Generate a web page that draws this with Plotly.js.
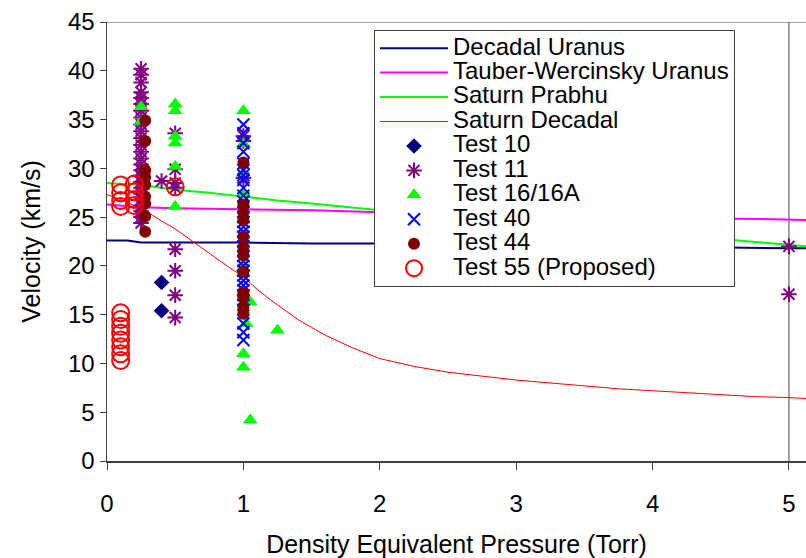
<!DOCTYPE html>
<html>
<head>
<meta charset="utf-8">
<script src="https://cdn.plot.ly/plotly-3.0.1.min.js"></script>
<style>html,body{margin:0;padding:0;background:#fff;}#chart{width:806px;height:558px;}</style>
</head>
<body>
<div id="chart"></div>
<script>
// ---- Model lines ----
const decadalUranusX = [0, 0.15, 0.25, 0.5, 1, 1.5, 2, 3, 4, 5, 5.13];
const decadalUranusY = [22.6, 22.6, 22.4, 22.4, 22.4, 22.3, 22.3, 22.1, 22.0, 21.8, 21.8];

const tauberX = [0, 0.25, 0.5, 1, 1.5, 2, 3, 4, 4.8, 5, 5.13];
const tauberY = [26.3, 26.0, 25.9, 25.8, 25.7, 25.5, 25.2, 24.9, 24.8, 24.7, 24.7];

const prabhuX = [0, 0.25, 0.5, 0.75, 1, 1.25, 1.5, 2, 3, 4, 4.8, 5, 5.13];
const prabhuY = [28.5, 28.3, 27.8, 27.5, 27.1, 26.7, 26.4, 25.7, 24.6, 23.4, 22.4, 22.2, 22.0];

const saturnDecadalX = [0, 0.1, 0.2, 0.3, 0.4, 0.5, 0.6, 0.7, 0.8, 0.9, 1.0, 1.1, 1.2, 1.3, 1.4, 1.5, 1.6, 1.8, 2.0, 2.25, 2.5, 2.75, 3.0, 3.25, 3.5, 3.75, 4.0, 4.25, 4.5, 4.75, 5.0, 5.13];
const saturnDecadalY = [27.3, 26.8, 26.2, 25.5, 24.6, 23.8, 22.8, 21.8, 20.8, 19.8, 18.9, 17.6, 16.5, 15.5, 14.5, 13.7, 12.9, 11.6, 10.5, 9.7, 9.1, 8.7, 8.3, 8.0, 7.7, 7.4, 7.2, 7.0, 6.8, 6.6, 6.5, 6.4];

// ---- Test data ----
const test10X = [0.4, 0.4];
const test10Y = [18.3, 15.4];

const test11X = [0.25,0.25,0.25,0.25,0.25,0.25,0.25,0.25,0.25,0.25,0.25,0.25,0.25,0.25,0.25,0.25,0.25,0.25,0.25,0.25,0.25,0.25,0.25,0.25,0.25,
                 0.4,
                 0.5,0.5,0.5,0.5,0.5,0.5,0.5,0.5,
                 1.0,1.0,1.0,
                 5,5];
const test11Y = [40.2,39.6,38.8,37.8,37.2,36.6,35.9,35.2,34.5,33.8,33.1,32.4,31.7,31.0,30.4,29.8,29.2,28.6,28.0,27.4,26.8,26.2,25.6,25.0,24.4,
                 28.7,
                 33.6,29.9,28.5,28.0,21.7,19.5,17.0,14.7,
                 33.3,32.8,29.0,
                 22.0,17.1];

const test16X = [0.25,0.25,
                 0.5,0.5,0.5,0.5,0.5,0.5,
                 1.0,1.0,1.0,1.0,1.0,1.02,1.0,1.0,
                 1.05,1.05,
                 1.25];
const test16Y = [36.3,34.8,
                 36.6,35.9,33.3,32.6,30.2,26.1,
                 35.9,32.5,29.5,27.5,19.8,14.1,11.0,9.6,
                 16.3,4.2,
                 13.4];

const test40X = [1,1,1,1,1,1,1,1,1,1,1,1,1,1,1,1,1,1,1,1,1,1,1,1,1,1,1,1,1,1,1,1,1,1,1,1];
const test40Y = [34.5,33.6,32.6,31.7,30.5,29.8,29.3,28.8,28.0,27.2,26.6,26.0,25.5,25.0,24.5,24.0,23.5,23.0,22.5,22.0,21.5,21.0,20.5,20.0,19.5,19.0,18.5,18.0,17.5,17.0,16.5,16.0,15.5,14.1,13.2,12.4];

const test44X = [0.28,0.28,0.28,0.28,0.28,0.28,0.28,0.28,0.28,
                 1,1,1,1,1,1,1,1,1,1,1,1];
const test44Y = [34.9,32.8,29.8,29.1,28.3,27.1,26.4,25.1,23.5,
                 30.6,26.3,25.5,24.7,23.0,21.9,21.1,19.4,17.3,16.8,15.7,15.1];

const test55X = [0.1,0.1,0.1,0.1, 0.2,0.2,0.2,0.2, 0.5,
                 0.1,0.1,0.1,0.1,0.1,0.1,0.1,0.1];
const test55Y = [28.3,27.5,26.7,26.1, 28.4,27.6,26.8,26.2, 28.1,
                 15.2,14.5,13.8,13.1,12.4,11.7,11.0,10.3];

const xTickVals = [0, 1, 2, 3, 4, 5];
const yTickVals = [0, 5, 10, 15, 20, 25, 30, 35, 40, 45];

const seriesNames = ['Decadal Uranus', 'Tauber-Wercinsky Uranus', 'Saturn Prabhu', 'Saturn Decadal',
  'Test 10', 'Test 11', 'Test 16/16A', 'Test 40', 'Test 44', 'Test 55 (Proposed)'];
const nm = i => '<span style="font-size:24px">' + seriesNames[i] + '</span>';

const traces = [
  {x: decadalUranusX, y: decadalUranusY, mode: 'lines', name: nm(0), line: {color: '#000080', width: 2}},
  {x: tauberX, y: tauberY, mode: 'lines', name: nm(1), line: {color: '#FF00FF', width: 2}},
  {x: prabhuX, y: prabhuY, mode: 'lines', name: nm(2), line: {color: '#00FF00', width: 2}},
  {x: saturnDecadalX, y: saturnDecadalY, mode: 'lines', name: nm(3), line: {color: '#FF0000', width: 1}},
  {x: test10X, y: test10Y, mode: 'markers', name: nm(4), marker: {symbol: 'diamond', size: 12, color: '#000080'}},
  {x: test11X, y: test11Y, mode: 'markers', name: nm(5), marker: {symbol: 'asterisk-open', size: 13, color: '#800080', line: {color: '#800080', width: 2}}},
  {x: test16X, y: test16Y, mode: 'markers', name: nm(6), marker: {symbol: 'triangle-up', size: 13, color: '#00FF00'}},
  {x: test40X, y: test40Y, mode: 'markers', name: nm(7), marker: {symbol: 'x-thin-open', size: 12, color: '#0000FF', line: {color: '#0000FF', width: 2}}},
  {x: test44X, y: test44Y, mode: 'markers', name: nm(8), marker: {symbol: 'circle', size: 12, color: '#800000'}},
  {x: test55X, y: test55Y, mode: 'markers', name: nm(9), marker: {symbol: 'circle-open', size: 17, color: '#FF0000', line: {color: '#FF0000', width: 2}}}
];

const font = 'Liberation Sans, Arial, sans-serif';

const layout = {
  width: 806, height: 558,
  margin: {l: 107, r: 0, t: 22, b: 97, pad: 0},
  paper_bgcolor: '#fff', plot_bgcolor: '#fff',
  font: {family: font, color: '#000', size: 24},
  showlegend: true,
  legend: {
    x: 0.382, y: 0.982, xanchor: 'left', yanchor: 'top',
    bgcolor: '#fff', bordercolor: '#404040', borderwidth: 1,
    font: {family: font, size: 16.5, color: '#000'},
    tracegroupgap: 0, itemwidth: 68
  },
  xaxis: {
    range: [0, 5.125], tickvals: xTickVals, ticktext: xTickVals.map(String),
    showgrid: false, zeroline: false, showline: true, linecolor: '#404040', linewidth: 1.5,
    ticks: 'outside', ticklen: 7, tickcolor: '#404040', tickwidth: 1,
    ticklabelstandoff: 14,
    tickfont: {family: font, size: 24, color: '#000'},
    title: {text: 'Density Equivalent Pressure (Torr)', font: {family: font, size: 25, color: '#000'}, standoff: 22},
    automargin: false
  },
  yaxis: {
    range: [0, 45], tickvals: yTickVals, ticktext: yTickVals.map(String),
    showgrid: false, zeroline: false, showline: true, linecolor: '#404040', linewidth: 1.5,
    ticks: 'outside', ticklen: 6, tickcolor: '#404040', tickwidth: 1,
    tickfont: {family: font, size: 24, color: '#000'},
    title: {text: 'Velocity (km/s)', font: {family: font, size: 25, color: '#000'}, standoff: 20},
    automargin: false
  },
  shapes: [
    {type: 'line', xref: 'paper', yref: 'y', x0: 0, x1: 1, y0: 45, y1: 45, line: {color: '#808080', width: 1.5}, layer: 'below'},
    {type: 'line', xref: 'x', yref: 'y', x0: 5, x1: 5, y0: 0, y1: 45, line: {color: '#808080', width: 1.5}, layer: 'below'}
  ]
};

Plotly.newPlot('chart', traces, layout, {displayModeBar: false, staticPlot: true});
</script>
</body>
</html>
